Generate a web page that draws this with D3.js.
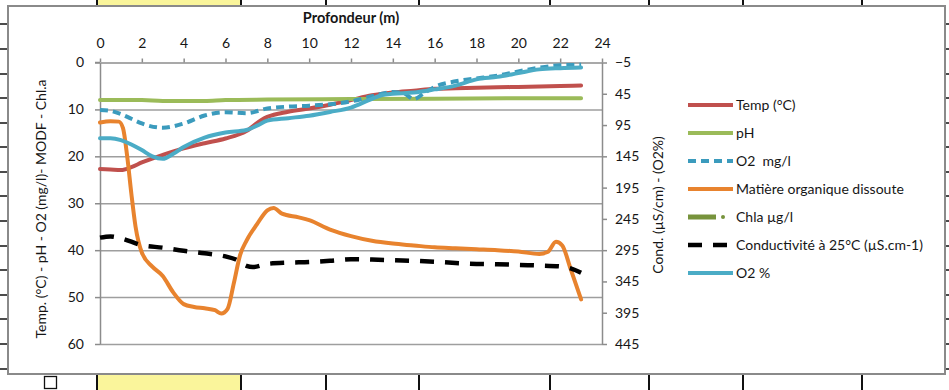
<!DOCTYPE html>
<html>
<head>
<meta charset="utf-8">
<script src="https://cdn.jsdelivr.net/npm/d3@7"></script>
<style>
  body { margin: 0; background: #fff; }
  svg { display: block; font-family: Lato, "Open Sans", sans-serif; }
  text { white-space: pre; }
</style>
</head>
<body>
<svg id="chart" width="949" height="390"></svg>
<script>
// depth (m) and values
const depthTemp = [0, 0.5, 1, 1.5, 2, 3, 4, 5, 6, 7, 7.7, 8, 9, 10, 11, 12, 13, 14, 15, 16, 17, 18, 19, 20, 21, 22, 23];
const temp      = [22.7, 22.8, 22.9, 22.3, 21.3, 19.7, 18.3, 17.2, 16.2, 14.6, 12.3, 11.6, 10.5, 9.8, 9, 8, 7.0, 6.4, 6.0, 5.6, 5.5, 5.4, 5.3, 5.2, 5.1, 5.0, 4.9];

const depthPh = [0, 2, 3, 5, 6, 8, 12, 16, 20, 23];
const ph      = [8.0, 8.0, 8.2, 8.2, 8.0, 7.9, 7.8, 7.7, 7.6, 7.6];

const depthO2 = [0, 0.5, 1, 1.5, 2, 3, 4, 5, 6, 7, 8, 9, 10, 11, 12, 13, 14, 14.5, 15, 15.5, 16, 17, 18, 19, 20, 21, 22, 23];
const o2mg    = [10.1, 10.3, 11, 12, 13, 13.9, 13, 11.3, 10.6, 10.8, 9.8, 9.4, 9.2, 8.9, 8.3, 7.2, 6.3, 6.5, 7.8, 6.5, 5.2, 4.0, 3.4, 2.8, 1.9, 1.1, 0.6, 0.5];

const depthMo = [0, 0.5, 0.9, 1.1, 1.3, 1.5, 1.7, 2, 2.5, 3, 3.5, 4, 4.5, 5, 5.5, 5.8, 6.1, 6.4, 6.7, 7, 7.5, 8, 8.3, 8.7, 9.5, 10, 11, 12, 13, 14, 15, 16, 17, 18, 19, 20, 21, 21.4, 21.8, 22.1, 22.5, 23];
const matOrg  = [12.8, 12.5, 12.6, 14, 20, 28, 35, 40.5, 43.5, 45.5, 49, 51.5, 52.1, 52.4, 52.8, 53.5, 52.5, 47, 41, 38, 34.5, 31.5, 31, 32.2, 33, 33.6, 35.6, 37, 38, 38.6, 39, 39.4, 39.6, 39.8, 40, 40.3, 40.8, 40.4, 38.2, 39, 44, 50.5];

// Chla: in the legend only, no line visible on the plot
const depthChla = [];
const chla      = [];

const depthCond = [0, 0.5, 1, 2, 3, 4, 5, 6, 6.5, 7, 7.3, 8, 9, 10, 11, 12, 13, 14, 15, 16, 17, 18, 19, 20, 21, 22, 22.5, 23];
const cond      = [275, 273, 276, 287, 291, 296, 300, 305, 310, 320, 322, 317, 315, 314, 312, 309.5, 310, 311, 312, 313.5, 315.5, 317, 317.5, 318.5, 319.5, 321, 324, 331];

const depthO2p = [0, 0.5, 1, 1.5, 2, 2.5, 3, 3.5, 4, 5, 6, 7, 7.5, 8, 9, 10, 11, 12, 13, 13.5, 14, 15, 16, 17, 18, 19, 20, 21, 22, 23];
const o2pct    = [116, 116, 119, 126, 135, 145, 149, 141, 130, 115, 107, 103, 96, 88, 84, 80, 74, 67, 53, 47, 45, 43, 38, 32, 22, 18, 12, 6, 4, 3];

const xTicks = d3.range(0, 25, 2);
const yLeftTicks = d3.range(0, 61, 10);
const yRightTicks = d3.range(-5, 446, 50);

const series = [
  { name: "Temp (°C)", d: depthTemp, v: temp, axis: "L", color: "#C0504D", width: 4 },
  { name: "pH", d: depthPh, v: ph, axis: "L", color: "#9BBB59", width: 4 },
  { name: "O2  mg/l", d: depthO2, v: o2mg, axis: "L", color: "#3B9BBD", width: 4, dash: "8,5" },
  { name: "Matière organique dissoute", d: depthMo, v: matOrg, axis: "L", color: "#E8832E", width: 4 },
  { name: "Chla µg/l", d: depthChla, v: chla, axis: "L", color: "#77933C", width: 5, marker: true },
  { name: "Conductivité à 25°C (µS.cm-1)", d: depthCond, v: cond, axis: "R", color: "#000000", width: 4.5, dash: "14,11" },
  { name: "O2 %", d: depthO2p, v: o2pct, axis: "R", color: "#4BACC6", width: 4 }
];

const svg = d3.select("#chart");

// ---- spreadsheet behind the chart ----
const colLines = [97, 241, 326, 419, 550, 649, 743, 862];
const rowLines = [24, 49, 74, 98, 123, 147, 172, 196, 221, 246, 270, 295, 319, 344, 369];
svg.append("rect").attr("x", 97).attr("y", 0).attr("width", 144).attr("height", 8).attr("fill", "#FAF59B");
svg.append("rect").attr("x", 97).attr("y", 374).attr("width", 144).attr("height", 16).attr("fill", "#FAF59B");
colLines.forEach(cx => {
  svg.append("line").attr("x1", cx).attr("x2", cx).attr("y1", 0).attr("y2", 7).attr("stroke", "#111").attr("stroke-width", 2);
  svg.append("line").attr("x1", cx).attr("x2", cx).attr("y1", 375).attr("y2", 390).attr("stroke", "#111").attr("stroke-width", 2);
});
rowLines.forEach(ry => {
  svg.append("line").attr("x1", 0).attr("x2", 8).attr("y1", ry).attr("y2", ry).attr("stroke", "#111").attr("stroke-width", 1.5);
  svg.append("line").attr("x1", 945).attr("x2", 949).attr("y1", ry).attr("y2", ry).attr("stroke", "#111").attr("stroke-width", 1.5);
});
svg.append("rect").attr("x", 44.5).attr("y", 376.5).attr("width", 12).attr("height", 12)
  .attr("fill", "#fff").attr("stroke", "#111").attr("stroke-width", 1.3);

// chart area
svg.append("rect").attr("x", 8).attr("y", 6).attr("width", 937).attr("height", 368)
  .attr("fill", "#fff").attr("stroke", "#8A8A8A").attr("stroke-width", 2);

// ---- scales ----
const x = d3.scaleLinear().domain([0, 24]).range([100, 602]);
const yL = d3.scaleLinear().domain([0, 60]).range([62.5, 344]);
const yR = d3.scaleLinear().domain([-5, 445]).range([62.5, 344]);

const axisColor = "#8C8C8C";
const textColor = "#161616";

function styleAxis(g) {
  g.select(".domain").attr("stroke", axisColor).attr("stroke-width", 1.5);
  g.selectAll(".tick line").attr("stroke", axisColor).attr("stroke-width", 1.5);
  g.selectAll(".tick text").attr("fill", textColor).attr("font-size", 14).attr("font-family", "Lato, sans-serif");
}

// horizontal gridlines
svg.append("g")
  .attr("transform", "translate(100,0)")
  .call(d3.axisLeft(yL).tickValues(yLeftTicks.slice(1)).tickSize(-502).tickFormat(""))
  .call(g => g.select(".domain").remove())
  .call(g => g.selectAll(".tick line").attr("stroke", "#9E9E9E").attr("stroke-width", 1.5));

// left axis
svg.append("g")
  .attr("transform", "translate(100,0)")
  .call(d3.axisLeft(yL).tickValues(yLeftTicks).tickSize(5).tickPadding(11).tickSizeOuter(0))
  .call(styleAxis);

// right axis
svg.append("g")
  .attr("transform", "translate(602,0)")
  .call(d3.axisRight(yR).tickValues(yRightTicks).tickSize(5).tickPadding(8).tickSizeOuter(0))
  .call(styleAxis);

// top axis (depth)
svg.append("g")
  .attr("transform", "translate(0,62.5)")
  .call(d3.axisTop(x).tickValues(xTicks).tickSize(4).tickPadding(11).tickSizeOuter(0))
  .call(styleAxis);
svg.append("line").attr("x1", 95).attr("x2", 100).attr("y1", 62.5).attr("y2", 62.5)
  .attr("stroke", axisColor).attr("stroke-width", 1.5);

// ---- series ----
const plot = svg.append("g");
series.forEach(s => {
  if (!s.v.length) return;
  const ys = s.axis === "L" ? yL : yR;
  const pts = s.d.map((d, i) => [d, s.v[i]]);
  const line = d3.line().x(p => x(p[0])).y(p => ys(p[1])).curve(d3.curveMonotoneX);
  plot.append("path")
    .attr("d", line(pts))
    .attr("fill", "none")
    .attr("stroke", s.color)
    .attr("stroke-width", s.width)
    .attr("stroke-linejoin", "round")
    .attr("stroke-linecap", s.dash ? "butt" : "round")
    .attr("stroke-dasharray", s.dash || null);
});

// ---- titles ----
svg.append("text")
  .attr("x", 351).attr("y", 23)
  .attr("text-anchor", "middle")
  .attr("font-size", 14.5).attr("font-weight", "bold").attr("fill", textColor)
  .text("Profondeur (m)");

svg.append("text")
  .attr("transform", "translate(46,209) rotate(-90)")
  .attr("text-anchor", "middle")
  .attr("font-size", 14).attr("fill", textColor)
  .text("Temp. (°C) - pH - O2 (mg/l)- MODF - Chl.a");

svg.append("text")
  .attr("transform", "translate(663,205) rotate(-90)")
  .attr("text-anchor", "middle")
  .attr("font-size", 14).attr("fill", textColor)
  .text("Cond. (µS/cm) - (O2%)");

// ---- legend ----
const legend = svg.append("g").attr("transform", "translate(688,105)");
series.forEach((s, i) => {
  const g = legend.append("g").attr("transform", `translate(0,${i * 28})`);
  g.append("line")
    .attr("x1", 0).attr("x2", s.marker ? 28 : 45)
    .attr("y1", 0).attr("y2", 0)
    .attr("stroke", s.color)
    .attr("stroke-width", s.width)
    .attr("stroke-dasharray", s.dash || null);
  if (s.marker) {
    g.append("circle").attr("cx", 35).attr("cy", 0).attr("r", 2).attr("fill", s.color);
  }
  g.append("text")
    .attr("x", 48).attr("y", 0).attr("dy", "0.35em")
    .attr("font-size", 14).attr("fill", textColor)
    .text(s.name);
});
</script>
</body>
</html>
